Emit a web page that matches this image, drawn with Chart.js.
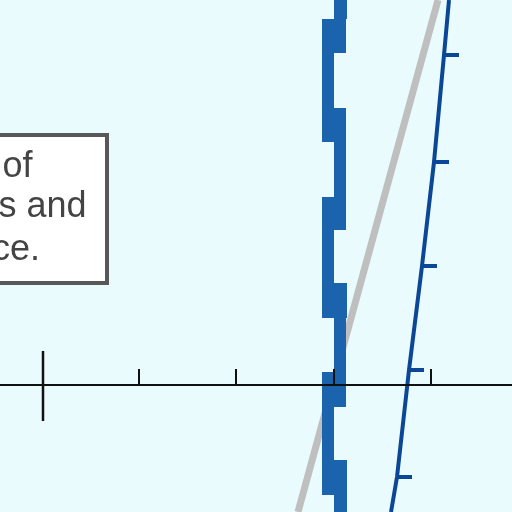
<!DOCTYPE html>
<html>
<head>
<meta charset="utf-8">
<script src="https://cdn.jsdelivr.net/npm/chart.js@4/dist/chart.umd.min.js"></script>
<style>
  html, body { margin: 0; padding: 0; background: #eafbfd; }
  #wrap { width: 512px; height: 512px; }
</style>
</head>
<body>
<div id="wrap"><canvas id="diagram"></canvas></div>
<script>
// blue stepped band (pieces, top to bottom)
const bandTop    = [0, 19, 53, 108, 142, 197, 230, 283, 318, 372, 407, 460, 495];
const bandBottom = [19, 53, 108, 142, 197, 230, 283, 318, 372, 407, 460, 495, 512];
const bandLeft   = [334, 322, 322, 322, 334, 322, 322, 322, 334, 322, 322, 322, 334];
const bandRight  = [347, 346, 334, 346, 346, 346, 334, 347, 346, 346, 334, 347, 347];

// grey diagonal
const greyX = [298, 438];
const greyY = [512, 0];

// navy diagonal with its ticks
const navyX = [449, 444, 434, 422, 409, 397, 391];
const navyY = [0, 55, 162, 266, 370, 477, 512];
const navyTickY = [55, 162, 266, 370, 477];
const navyTickLen = 15;

// horizontal axis and its ticks
const axisY = 385;
const axisTickX = [43, 139, 236, 334, 431];
const axisTickTop = [351, 369, 369, 369, 369];
const axisTickBottom = [421, 385, 385, 385, 385];

// text box (left part is cut off)
const boxLines = ["of", "s and", "ce."];
const boxLineX = [2.5, -1.5, -8];
const boxLineY = [177, 217, 260];

function seg(x0, y0, x1, y1, color, width, order) {
    return {
        data: [{x: x0, y: y0}, {x: x1, y: y1}],
        borderColor: color,
        borderWidth: width,
        pointRadius: 0,
        showLine: true,
        order: order
    }
}

function navyAt(y) {
    for (let i = 1; i < navyY.length; i++) {
        if (y <= navyY[i]) {
            const t = (y - navyY[i - 1]) / (navyY[i] - navyY[i - 1]);
            return navyX[i - 1] + t * (navyX[i] - navyX[i - 1]);
        }
    }
    return navyX[navyX.length - 1];
}

const datasets = [];
datasets.push(seg(greyX[0], greyY[0], greyX[1], greyY[1], '#bfbfbf', 7, 5));
bandTop.forEach((t, i) => {
    const mid = (bandLeft[i] + bandRight[i]) / 2;
    datasets.push(seg(mid, t, mid, bandBottom[i], '#1c63ad', bandRight[i] - bandLeft[i], 3));
});
datasets.push({
    data: navyX.map((x, i) => ({x: x, y: navyY[i]})),
    borderColor: '#0b4796',
    borderWidth: 4,
    pointRadius: 0,
    showLine: true,
    order: 1
});
navyTickY.forEach(y => {
    const x = navyAt(y);
    datasets.push(seg(x, y, x + navyTickLen, y, '#0b4796', 4, 1));
});
datasets.push(seg(0, axisY, 512, axisY, '#111111', 2, 0));
axisTickX.forEach((x, i) => {
    datasets.push(seg(x, axisTickTop[i], x, axisTickBottom[i], '#111111', i == 0 ? 2.5 : 2, 0));
});

// white note box with text, drawn over the plot
const noteBox = {
    id: 'noteBox',
    afterDatasetsDraw(chart) {
        const ctx = chart.ctx;
        const sx = chart.scales.x, sy = chart.scales.y;
        const left = sx.getPixelForValue(-20), right = sx.getPixelForValue(107);
        const top = sy.getPixelForValue(135), bottom = sy.getPixelForValue(283);
        ctx.save();
        ctx.fillStyle = '#ffffff';
        ctx.fillRect(left, top, right - left, bottom - top);
        ctx.strokeStyle = '#585858';
        ctx.lineWidth = 4;
        ctx.strokeRect(left, top, right - left, bottom - top);
        ctx.fillStyle = '#444444';
        ctx.font = "36px 'Liberation Sans', Arial, sans-serif";
        ctx.textAlign = 'left';
        ctx.textBaseline = 'alphabetic';
        boxLines.forEach((s, i) => {
            ctx.fillText(s, sx.getPixelForValue(boxLineX[i]), sy.getPixelForValue(boxLineY[i]));
        });
        ctx.restore();
    }
};

new Chart(document.getElementById('diagram'), {
    type: 'scatter',
    data: { datasets: datasets },
    options: {
        responsive: true,
        maintainAspectRatio: false,
        animation: false,
        events: [],
        layout: { padding: 0 },
        plugins: {
            legend: { display: false },
            tooltip: { enabled: false }
        },
        scales: {
            x: { type: 'linear', min: 0, max: 512, display: false },
            y: { type: 'linear', min: 0, max: 512, reverse: true, display: false }
        }
    },
    plugins: [noteBox]
});
</script>
</body>
</html>
